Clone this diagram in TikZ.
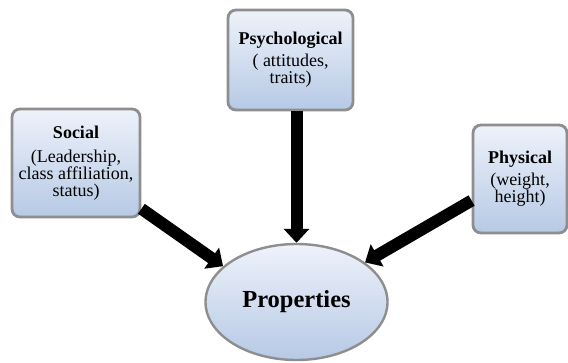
\documentclass[tikz,border=0pt]{standalone}
\usepackage{fontspec}
\setmainfont{Liberation Serif}
\usetikzlibrary{arrows.meta,shapes.geometric}

\definecolor{boxtop}{HTML}{EEF2FA}
\definecolor{boxbot}{HTML}{B6C9E5}
\definecolor{boxline}{HTML}{8E8E8E}

\tikzset{
    factor/.style={draw=boxline, line width=2.8pt, rounded corners=8pt,
        top color=boxtop, bottom color=boxbot, align=center, inner sep=1pt,
        font=\fontsize{18}{17}\selectfont},
    core/.style={ellipse, draw=boxline, line width=2.4pt,
        top color=boxtop, bottom color=boxbot, inner sep=0pt,
        minimum width=182pt, minimum height=116pt,
        font=\fontsize{24.5}{26}\selectfont\bfseries},
    push/.style={line width=12pt, -{Triangle[length=14pt,width=25pt]}}
}

\begin{document}
\begin{tikzpicture}[x=1pt,y=-1pt]

% 定义画布大小
\useasboundingbox (0,0) rectangle (568,362);

% 三个因素方框
\node[factor, minimum width=128pt, minimum height=108pt] (social) at (76,163)
    {\textbf{Social}\\[7pt](Leadership,\\class affiliation,\\status)};
\node[factor, minimum width=125pt, minimum height=100pt] (psych) at (290.5,60)
    {\textbf{Psychological}\\[5pt]( attitudes,\\traits)};
\node[factor, minimum width=94pt, minimum height=108pt] (physical) at (520,179)
    {\textbf{Physical}\\[5pt](weight,\\height)};

% 中间椭圆
\node[core] (prop) at (296.5,302) {Properties};

% 粗箭头
\foreach \from/\to/\dx in {social.-35/prop.154/0, psych.south/prop.north/6, physical.204/prop.30/0} {
    \draw[push] ([xshift=\dx pt]\from) -- (\to);
}

\end{tikzpicture}
\end{document}
